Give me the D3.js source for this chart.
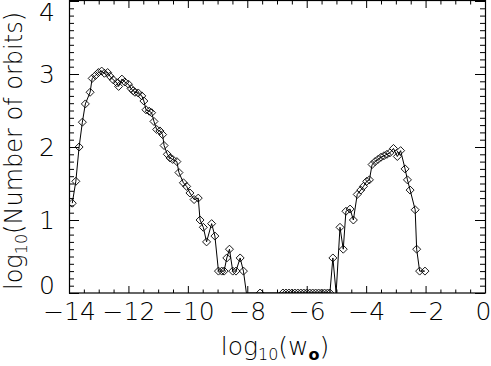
<!DOCTYPE html>
<html>
<head>
<meta charset="utf-8">
<script src="https://cdn.jsdelivr.net/npm/d3@7"></script>
<style>
  body { margin: 0; background: #fff; }
  text { font-family: "DejaVu Sans", sans-serif; font-weight: 200; fill: #000; }
</style>
</head>
<body>
<div id="chart"></div>
<script>
// log10(w_o) of each bin
let logW = [
  -13.89, -13.77, -13.66, -13.55, -13.45, -13.29, -13.22, -13.11, -13.01, -12.9,
  -12.81, -12.7, -12.62, -12.51, -12.39, -12.33, -12.22, -12.12, -12.0, -11.91,
  -11.84, -11.78, -11.67, -11.55, -11.48, -11.41, -11.3, -11.22, -11.14, -11.05,
  -10.94, -10.85, -10.8, -10.69, -10.6, -10.51, -10.37, -10.3, -10.15, -10.04,
  -9.93, -9.79, -9.65, -9.59, -9.48, -9.37, -9.2, -9.09, -8.97, -8.86,
  -8.78, -8.69, -8.6, -8.49, -8.38, -8.24, -8.13, -8.03, -7.57,
  -6.8, -6.7, -6.6, -6.5, -6.4, -6.3, -6.2, -6.1, -6.0, -5.9,
  -5.8, -5.7, -5.6, -5.5, -5.4, -5.3, -5.22, -5.12, -5.01,
  -4.88, -4.77, -4.68, -4.54, -4.43, -4.3, -4.18, -4.09, -3.98, -3.89,
  -3.8, -3.7, -3.6, -3.5, -3.4, -3.3, -3.2, -3.08, -2.95, -2.84,
  -2.69, -2.61, -2.52, -2.35, -2.3, -2.2, -2.02
];
// log10(number of orbits); null = empty bin (log of zero)
let logN = [
  1.23, 1.53, 2.0, 2.34, 2.59, 2.75, 2.94, 2.98, 3.02, 3.04,
  3.01, 3.02, 2.97, 2.92, 2.88, 2.83, 2.93, 2.89, 2.86, 2.8,
  2.77, 2.75, 2.74, 2.7, 2.63, 2.51, 2.49, 2.47, 2.35, 2.24,
  2.22, 2.17, 2.02, 1.9, 1.85, 1.83, 1.8, 1.65, 1.51, 1.46,
  1.37, 1.28, 1.3, 1.0, 0.9, 0.7, 0.95, 0.78, 0.3, 0.3,
  0.3, 0.48, 0.6, 0.3, 0.3, 0.48, 0.3, null, 0,
  0, 0, 0, 0, 0, 0, 0, 0, 0, 0,
  0, 0, 0, 0, 0, 0, 0, 0.48, null,
  0.9, 0.6, 1.12, 1.15, 1.0, 1.35, 1.41, 1.46, 1.53, 1.55,
  1.76, 1.8, 1.83, 1.86, 1.88, 1.9, 1.92, 1.98, 1.87, 1.95,
  1.7, 1.55, 1.41, 1.14, 0.6, 0.3, 0.3
];

let xTicks = [-14, -12, -10, -8, -6, -4, -2, 0];
let yTicks = [0, 1, 2, 3, 4];
let xMinorStep = 0.5;
let yMinorStep = 0.1;

let points = logW.map((w, i) => ({ w: w, n: logN[i] }));

// Dimensions of chart.
let width = 491,
  height = 366,
  margin = { top: 1, right: 6, bottom: 73, left: 69 };

let svg = d3
  .select("#chart")
  .append("svg")
  .attr("width", width)
  .attr("height", height);

let x = d3
  .scaleLinear()
  .domain([-14, 0])
  .range([margin.left, width - margin.right]);
// clamp so empty bins (-Infinity) fall onto the bottom axis
let y = d3
  .scaleLinear()
  .domain([0, 4])
  .range([height - margin.bottom, margin.top])
  .clamp(true);

let x0 = x.range()[0], x1 = x.range()[1];
let y0 = y.range()[0], y1 = y.range()[1];

let xMinor = d3.range(-14, 0.001, xMinorStep).filter((v) => !xTicks.includes(v));
let yMinor = d3.range(0, 4.001, yMinorStep).map((v) => +v.toFixed(1)).filter((v) => !yTicks.includes(v));

function tidy(g) {
  g.select(".domain").remove();
  g.selectAll("line").attr("stroke", "#000");
  g.attr("font-family", null).attr("font-size", null);
}

// bottom axis: labelled majors + minors
svg.append("g")
  .attr("transform", "translate(0," + y0 + ")")
  .call(d3.axisBottom(x).tickValues(xTicks).tickSize(-7).tickPadding(9).tickFormat(d3.format("d")))
  .call(tidy)
  .selectAll("text")
  .style("font-size", "25px")
  // keep the last label inside the page
  .attr("x", (d) => Math.min(width - 8, x(d)) - x(d));
svg.append("g")
  .attr("transform", "translate(0," + y0 + ")")
  .call(d3.axisBottom(x).tickValues(xMinor).tickSize(-3.5).tickFormat(""))
  .call(tidy);
// top axis mirror
svg.append("g")
  .attr("transform", "translate(0," + y1 + ")")
  .call(d3.axisTop(x).tickValues(xTicks).tickSize(-7).tickFormat(""))
  .call(tidy);
svg.append("g")
  .attr("transform", "translate(0," + y1 + ")")
  .call(d3.axisTop(x).tickValues(xMinor).tickSize(-3.5).tickFormat(""))
  .call(tidy);

// left axis
svg.append("g")
  .attr("transform", "translate(" + x0 + ",0)")
  .call(d3.axisLeft(y).tickValues(yTicks).tickSize(-10).tickPadding(14).tickFormat(d3.format("d")))
  .call(tidy)
  .selectAll("text")
  .style("font-size", "25px")
  // end labels pulled inside the frame height
  .attr("y", (d) => Math.min(y0 - 8, Math.max(y1 + 11, y(d))) - y(d));
svg.append("g")
  .attr("transform", "translate(" + x0 + ",0)")
  .call(d3.axisLeft(y).tickValues(yMinor).tickSize(-5).tickFormat(""))
  .call(tidy);
// right axis mirror
svg.append("g")
  .attr("transform", "translate(" + x1 + ",0)")
  .call(d3.axisRight(y).tickValues(yTicks).tickSize(-10).tickFormat(""))
  .call(tidy);
svg.append("g")
  .attr("transform", "translate(" + x1 + ",0)")
  .call(d3.axisRight(y).tickValues(yMinor).tickSize(-5).tickFormat(""))
  .call(tidy);

// frame
svg.append("rect")
  .attr("x", x0 + 0.5)
  .attr("y", y1 - 0.5)
  .attr("width", x1 - x0)
  .attr("height", y0 - y1 + 0.5)
  .attr("fill", "none")
  .attr("stroke", "#000")
  .attr("stroke-width", 1.2);

// clip to plot window
svg.append("clipPath")
  .attr("id", "plotclip")
  .append("rect")
  .attr("x", x0)
  .attr("y", y1)
  .attr("width", x1 - x0)
  .attr("height", y0 - y1);

let plot = svg.append("g").attr("clip-path", "url(#plotclip)");

let line = d3
  .line()
  .x((d) => x(d.w))
  .y((d) => y(d.n === null ? -Infinity : d.n));

plot.append("path")
  .datum(points)
  .attr("d", line)
  .attr("fill", "none")
  .attr("stroke", "#000")
  .attr("stroke-width", 1);

// diamond markers
let dsz = 4;
plot.append("g")
  .selectAll("path")
  .data(points.filter((d) => d.n !== null))
  .join("path")
  .attr("transform", (d) => "translate(" + x(d.w) + "," + y(d.n) + ")")
  .attr("d", "M0,-" + dsz + "L" + dsz + ",0L0," + dsz + "L-" + dsz + ",0Z")
  .attr("fill", "none")
  .attr("stroke", "#000")
  .attr("stroke-width", 0.9);

// axis titles
let xt = svg.append("text")
  .attr("x", 275)
  .attr("y", 355)
  .attr("text-anchor", "middle")
  .style("font-size", "25px");
xt.append("tspan").text("log");
xt.append("tspan").attr("dy", 5).style("font-size", "16px").text("10");
xt.append("tspan").attr("dy", -5).text("(w");
xt.append("tspan").attr("dy", 5).style("font-size", "16px").style("font-weight", "bold").text("o");
xt.append("tspan").attr("dy", -5).text(")");

let yt = svg.append("text")
  .attr("transform", "translate(22,151) rotate(-90)")
  .attr("text-anchor", "middle")
  .style("font-size", "24px");
yt.append("tspan").text("log");
yt.append("tspan").attr("dy", 5).style("font-size", "16px").text("10");
yt.append("tspan").attr("dy", -5).text("(Number of orbits)");
</script>
</body>
</html>
